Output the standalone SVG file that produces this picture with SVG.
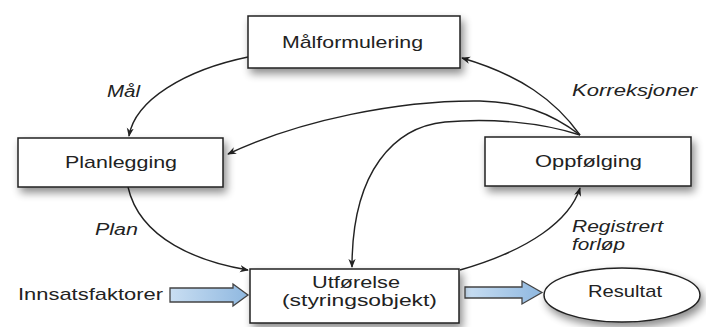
<svg xmlns="http://www.w3.org/2000/svg" width="706" height="327" viewBox="0 0 706 327">
<style>
.box{fill:#fff;stroke:#222;stroke-width:1.5;filter:url(#sh)}
.t{font-family:"Liberation Sans",Arial,sans-serif;font-size:17px;fill:#222}
.l{font-family:"Liberation Sans",Arial,sans-serif;font-size:16px;font-style:italic;fill:#222}
.c{fill:none;stroke:#222;stroke-width:1.4;marker-end:url(#ah)}
.blk{fill:url(#bg);stroke:#444;stroke-width:1.3}
</style>
<defs>
<filter id="sh" x="-20%" y="-40%" width="140%" height="190%">
<feGaussianBlur in="SourceAlpha" stdDeviation="4"/>
<feOffset dx="3" dy="5" result="b"/>
<feComponentTransfer><feFuncA type="linear" slope="0.45"/></feComponentTransfer>
<feMerge><feMergeNode/><feMergeNode in="SourceGraphic"/></feMerge>
</filter>
<linearGradient id="bg" x1="0" y1="0" x2="1" y2="0">
<stop offset="0" stop-color="#c9def2"/><stop offset="1" stop-color="#8fb8e0"/>
</linearGradient>
<marker id="ah" viewBox="0 0 10 10" refX="9" refY="5" markerWidth="9" markerHeight="9" orient="auto" markerUnits="userSpaceOnUse">
<path d="M0,1 L10,5 L0,9 L3,5 Z" fill="#222"/>
</marker>
</defs>
<g id="connectors">
<path class="c" d="M248,57 C185,70 135,100 129,136"/>
<path class="c" d="M580,135 C555,100 520,75 462,58"/>
<path class="c" d="M580,135 C550,112 520,102 480,101 C400,100 300,120 228,154"/>
<path class="c" d="M580,135 C540,122 490,118 445,122 C395,127 352,170 352,267"/>
<path class="c" d="M128,187 C140,240 200,262 248,270"/>
<path class="c" d="M460,270 C530,250 570,220 580,188"/>
<path class="blk" d="M170,288 L233,288 L233,284 L248,295 L233,306 L233,302 L170,302 Z"/>
<path class="blk" d="M465,287 L522,287 L522,281 L542,292.5 L522,304 L522,298 L465,298 Z"/>
</g>
<g id="malformulering">
<rect class="box" x="248" y="16" width="212" height="52"/>
<text class="t" x="282" y="48" textLength="141" lengthAdjust="spacingAndGlyphs">Målformulering</text>
</g>
<g id="planlegging">
<rect class="box" x="18" y="138" width="205" height="49"/>
<text class="t" x="65" y="168" textLength="112" lengthAdjust="spacingAndGlyphs">Planlegging</text>
</g>
<g id="oppfolging">
<rect class="box" x="485" y="137" width="206" height="49"/>
<text class="t" x="535" y="167" textLength="107" lengthAdjust="spacingAndGlyphs">Oppfølging</text>
</g>
<g id="utforelse">
<rect class="box" x="250" y="269" width="209" height="54"/>
<text class="t" x="312" y="288" textLength="88" lengthAdjust="spacingAndGlyphs">Utførelse</text>
<text class="t" x="282" y="306" textLength="155" lengthAdjust="spacingAndGlyphs">(styringsobjekt)</text>
</g>
<g id="resultat">
<ellipse cx="622" cy="295" rx="78" ry="27" fill="#fff" stroke="#222" stroke-width="1.5" filter="url(#sh)"/>
<text class="t" x="588" y="297" textLength="74" lengthAdjust="spacingAndGlyphs">Resultat</text>
</g>
<g id="innsatsfaktorer">
<text class="t" x="18" y="300" textLength="145" lengthAdjust="spacingAndGlyphs">Innsatsfaktorer</text>
</g>
<g id="labels">
<text class="l" x="107" y="97" textLength="33" lengthAdjust="spacingAndGlyphs">Mål</text>
<text class="l" x="572" y="96" textLength="125" lengthAdjust="spacingAndGlyphs">Korreksjoner</text>
<text class="l" x="95" y="235" textLength="43" lengthAdjust="spacingAndGlyphs">Plan</text>
<text class="l" x="572" y="232" textLength="91" lengthAdjust="spacingAndGlyphs">Registrert</text>
<text class="l" x="572" y="250" textLength="53" lengthAdjust="spacingAndGlyphs">forløp</text>
</g>
</svg>
